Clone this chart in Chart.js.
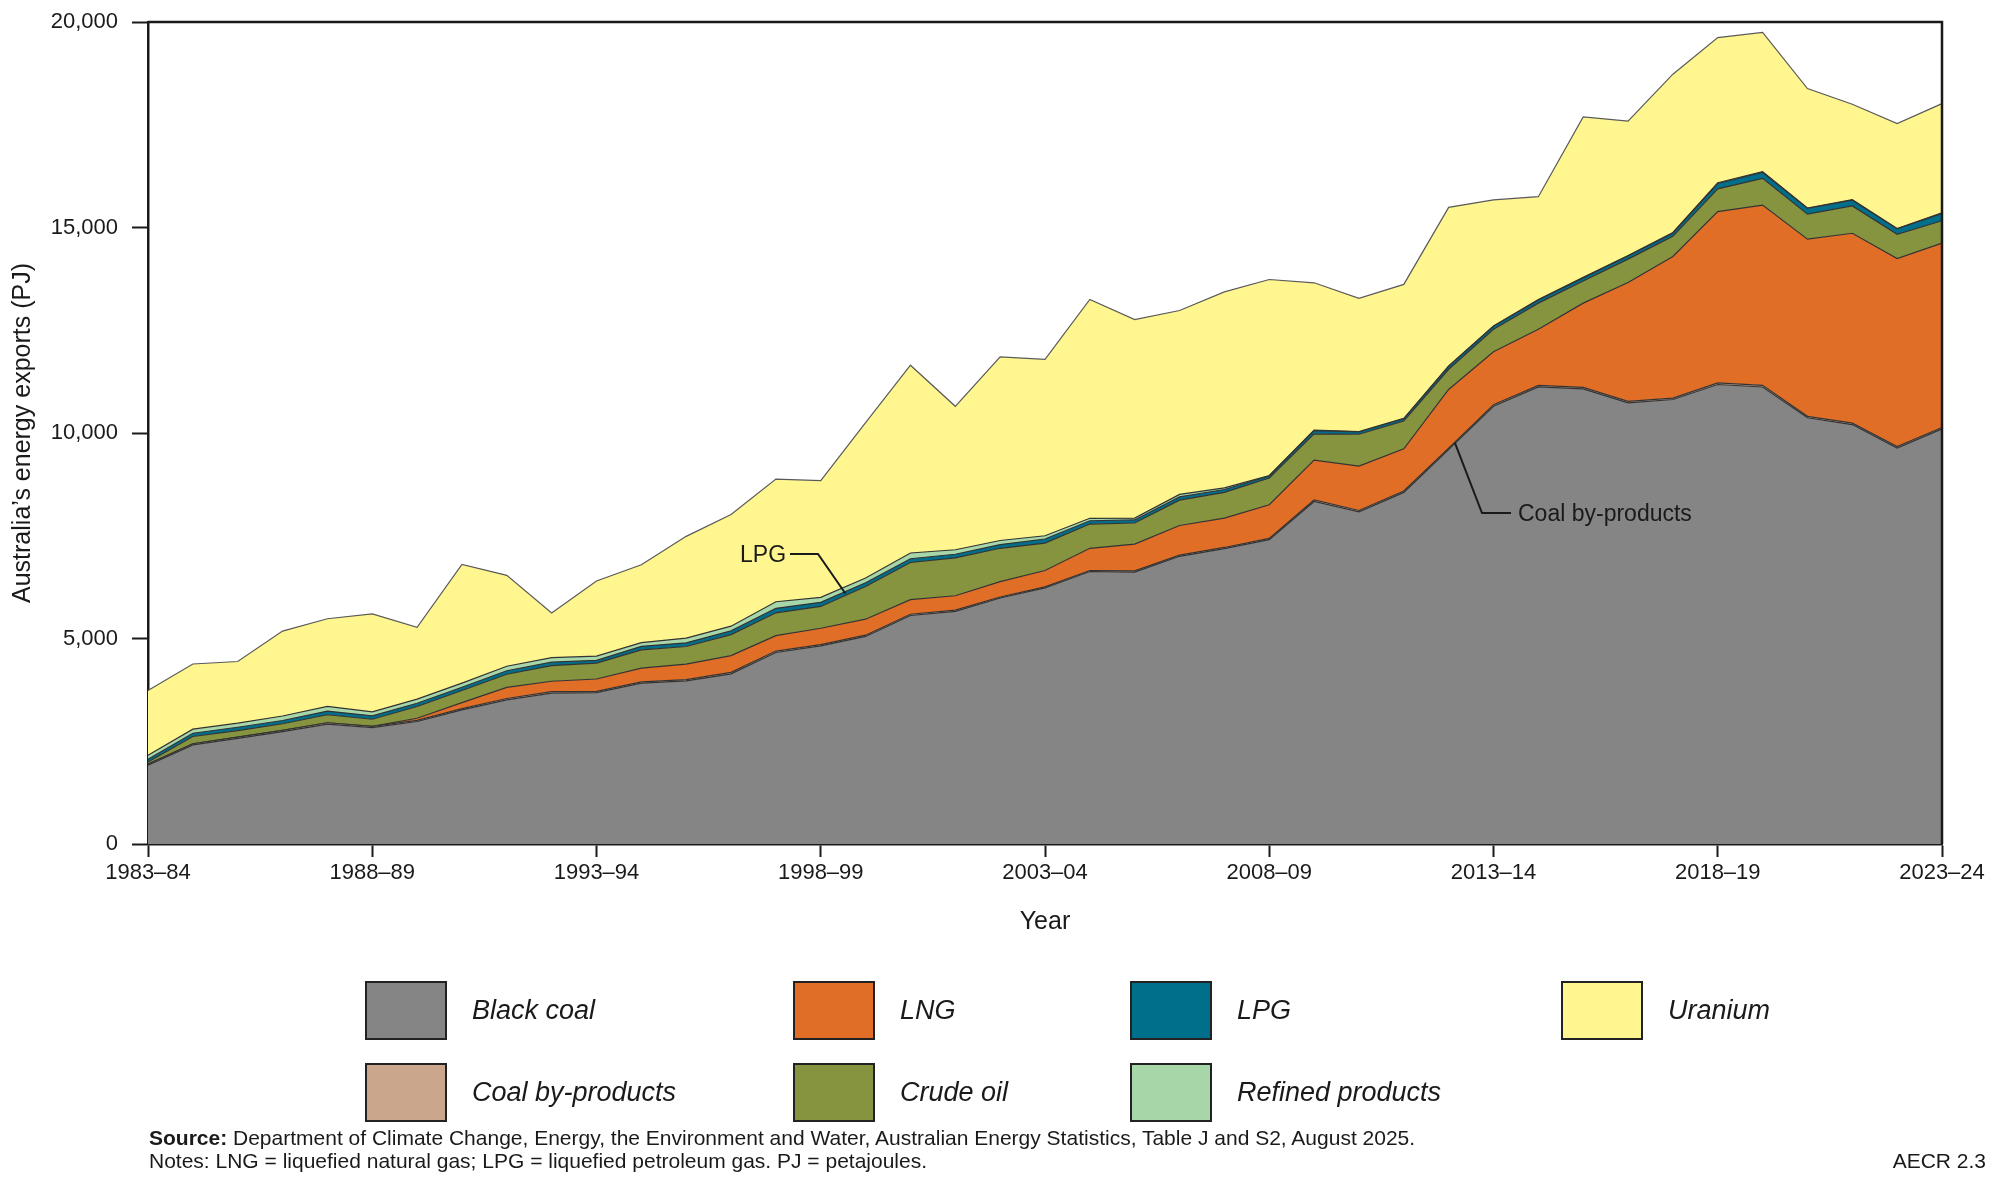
<!DOCTYPE html>
<html>
<head>
<meta charset="utf-8">
<script src="https://cdn.jsdelivr.net/npm/chart.js@4.4.1/dist/chart.umd.min.js"></script>
<style>
  html, body { margin: 0; padding: 0; background: #fff; }
  #wrap { position: relative; width: 2000px; height: 1187px; color: #1a1a1a;
          font-family: "Liberation Sans", Arial, sans-serif; }
  #chart { position: absolute; left: 0; top: 0; }
  .swatch { position: absolute; width: 78px; height: 55px; border: 2px solid #222; }
  .label { position: absolute; height: 59px; display: flex; align-items: center;
           font-style: italic; font-size: 27px; white-space: nowrap; }
  .note { position: absolute; font-size: 21px; line-height: 24px; white-space: nowrap; }
  .callout { position: absolute; font-size: 23px; line-height: 30px; white-space: nowrap; }
</style>
</head>
<body>
<div id="wrap">
  <canvas id="chart" width="2000" height="1187"></canvas>
  <div id="legend"></div>
  <div class="callout" style="left:740px; top:539px;">LPG</div>
  <div class="callout" style="left:1518px; top:498px;">Coal by-products</div>
  <div class="note" style="left:149px; top:1126px;"><b>Source:</b> Department of Climate Change, Energy, the Environment and Water, Australian Energy Statistics, Table J and S2, August 2025.</div>
  <div class="note" style="left:149px; top:1149px;">Notes: LNG = liquefied natural gas; LPG = liquefied petroleum gas. PJ = petajoules.</div>
  <div class="note" style="right:14px; top:1149px;">AECR 2.3</div>
</div>
<script>
const years = ['1983–84', '1984–85', '1985–86', '1986–87', '1987–88', '1988–89', '1989–90', '1990–91',
  '1991–92', '1992–93', '1993–94', '1994–95', '1995–96', '1996–97', '1997–98', '1998–99', '1999–00',
  '2000–01', '2001–02', '2002–03', '2003–04', '2004–05', '2005–06', '2006–07', '2007–08', '2008–09',
  '2009–10', '2010–11', '2011–12', '2012–13', '2013–14', '2014–15', '2015–16', '2016–17', '2017–18',
  '2018–19', '2019–20', '2020–21', '2021–22', '2022–23', '2023–24'];

// PJ
const blackCoal = [1920, 2410, 2570, 2735, 2915, 2830, 2980, 3265, 3505, 3670, 3685, 3915, 3970, 4140,
  4660, 4820, 5050, 5560, 5660, 5985, 6230, 6630, 6615, 7000, 7185, 7405, 8335, 8080, 8555, 9595,
  10650, 11120, 11075, 10735, 10815, 11180, 11120, 10370, 10205, 9635, 10100];
const coalByProducts = [25, 30, 30, 30, 35, 30, 30, 30, 35, 35, 30, 30, 30, 35, 35, 30, 30, 30, 30, 25,
  25, 25, 30, 30, 30, 30, 35, 35, 35, 35, 40, 40, 35, 35, 35, 40, 40, 35, 35, 35, 35];
const lng = [0, 0, 0, 0, 0, 0, 50, 145, 270, 255, 300, 335, 375, 410, 375, 400, 390, 355, 350, 375,
  400, 540, 650, 720, 715, 820, 970, 1080, 1025, 1430, 1285, 1365, 2050, 2890, 3445, 4165, 4385,
  4310, 4620, 4575, 4485];
const crudeOil = [50, 175, 160, 160, 195, 175, 285, 295, 320, 380, 385, 445, 430, 510, 555, 530, 795,
  905, 920, 810, 665, 590, 515, 615, 625, 650, 640, 775, 675, 490, 550, 635, 540, 570, 490, 555, 650,
  610, 665, 590, 545];
const lpg = [65, 80, 80, 80, 90, 85, 80, 80, 85, 85, 70, 85, 90, 90, 110, 100, 90, 90, 90, 90, 100, 80,
  75, 80, 70, 50, 80, 55, 55, 70, 70, 75, 75, 75, 75, 130, 145, 140, 140, 130, 180];
const refined = [100, 100, 100, 110, 115, 95, 100, 100, 110, 110, 100, 90, 115, 115, 160, 120, 115, 140,
  110, 100, 80, 60, 45, 60, 40, 10, 10, 10, 10, 10, 10, 10, 15, 15, 20, 20, 20, 10, 10, 10, 10];
const uranium = [1575, 1585, 1500, 2065, 2130, 2385, 1745, 2885, 2210, 1085, 1830, 1895, 2475, 2715,
  2985, 2840, 3780, 4570, 3490, 4465, 4290, 5325, 4830, 4475, 4770, 4770, 3585, 3240, 3260, 3860,
  3065, 2505, 3900, 3270, 3850, 3530, 3385, 2905, 2325, 2555, 2660];

const yTicks = [0, 5000, 10000, 15000, 20000];

// bottom to top stacking order
const series = [
  { name: 'Black coal', data: blackCoal, color: '#858585' },
  { name: 'Coal by-products', data: coalByProducts, color: '#c9a68c' },
  { name: 'LNG', data: lng, color: '#e06e27' },
  { name: 'Crude oil', data: crudeOil, color: '#86943f' },
  { name: 'LPG', data: lpg, color: '#006f8b' },
  { name: 'Refined products', data: refined, color: '#a7d7a8' },
  { name: 'Uranium', data: uranium, color: '#fff68f' }
];

const legendOrder = ['Black coal', 'LNG', 'LPG', 'Uranium', 'Coal by-products', 'Crude oil', 'Refined products'];
const legendSlots = [[365, 981], [793, 981], [1130, 981], [1561, 981], [365, 1063], [793, 1063], [1130, 1063]];

const FONT = "'Liberation Sans', Arial, sans-serif";
const INK = '#1a1a1a';

// leader lines: text end -> elbow -> middle of a band at a fractional year index
const callouts = [
  { layer: 4, at: 15.55, from: [790, 554], elbow: [818, 554] },
  { layer: 1, at: 29.14, from: [1511, 513], elbow: [1482, 513] }
];

function stackAt(layer, at) {
  var i = Math.floor(at), f = at - i, sum = 0;
  for (var k = 0; k <= layer; k++) {
    var d = series[k].data;
    sum += d[i] + (d[Math.min(i + 1, d.length - 1)] - d[i]) * f;
  }
  return sum;
}

var legend = document.getElementById('legend');
legendOrder.forEach(function (name, n) {
  var s = series.find(function (d) { return d.name === name; });
  var pos = legendSlots[n];
  var sw = document.createElement('div');
  sw.className = 'swatch';
  sw.style.left = pos[0] + 'px';
  sw.style.top = pos[1] + 'px';
  sw.style.background = s.color;
  legend.appendChild(sw);
  var lb = document.createElement('div');
  lb.className = 'label';
  lb.style.left = (pos[0] + 107) + 'px';
  lb.style.top = pos[1] + 'px';
  lb.textContent = name;
  legend.appendChild(lb);
});

const framePlugin = {
  id: 'frame',
  afterDraw(chart) {
    const ctx = chart.ctx, a = chart.chartArea, x = chart.scales.x, y = chart.scales.y;
    ctx.save();
    ctx.strokeStyle = INK;
    ctx.lineWidth = 2.5;
    ctx.beginPath();
    ctx.moveTo(a.left, a.top);
    ctx.lineTo(a.right, a.top);
    ctx.lineTo(a.right, a.bottom);
    ctx.stroke();
    ctx.lineWidth = 2;
    callouts.forEach(function (c) {
      var mid = (stackAt(c.layer, c.at) + stackAt(c.layer - 1, c.at)) / 2;
      ctx.beginPath();
      ctx.moveTo(c.from[0], c.from[1]);
      ctx.lineTo(c.elbow[0], c.elbow[1]);
      ctx.lineTo(x.getPixelForValue(c.at), y.getPixelForValue(mid));
      ctx.stroke();
    });
    ctx.restore();
  }
};

new Chart(document.getElementById('chart'), {
  type: 'line',
  data: {
    labels: years,
    datasets: series.map(function (s, i) {
      return {
        label: s.name,
        data: s.data,
        backgroundColor: s.color,
        borderColor: i === series.length - 1 ? '#5a5a5a' : '#333',
        borderWidth: 1.2,
        fill: i === 0 ? 'origin' : '-1',
        pointRadius: 0,
        tension: 0
      };
    })
  },
  options: {
    responsive: false,
    animation: false,
    devicePixelRatio: 1,
    layout: { padding: { left: 8, top: 22, right: 58, bottom: 250 } },
    plugins: { legend: { display: false }, tooltip: { enabled: false } },
    scales: {
      x: {
        grid: {
          drawOnChartArea: false, tickLength: 13, tickWidth: 2,
          tickColor: function (c) { return c.index % 5 === 0 ? INK : 'rgba(0,0,0,0)'; }
        },
        border: { color: INK, width: 2.5 },
        ticks: {
          autoSkip: false, maxRotation: 0, padding: 3, color: INK,
          font: { family: FONT, size: 22 },
          callback: function (v, i) { return i % 5 === 0 ? years[i] : ''; }
        },
        title: { display: true, text: 'Year', color: INK, padding: 0, font: { family: FONT, size: 25 } },
        afterFit: function (s) { s.height = 93; s.paddingLeft = 0; s.paddingRight = 0; }
      },
      y: {
        stacked: true,
        min: yTicks[0],
        max: yTicks[yTicks.length - 1],
        grid: { drawOnChartArea: false, tickLength: 16, tickWidth: 2, tickColor: INK },
        border: { color: INK, width: 2.5 },
        ticks: {
          stepSize: yTicks[1] - yTicks[0], padding: 14, color: INK,
          font: { family: FONT, size: 22 },
          callback: function (v) { return v.toLocaleString('en-US'); }
        },
        title: { display: true, text: 'Australia’s energy exports (PJ)', color: INK, padding: 0,
                 font: { family: FONT, size: 25 } },
        afterFit: function (s) { s.width = 140; s.paddingTop = 0; s.paddingBottom = 0; }
      }
    }
  },
  plugins: [framePlugin]
});
</script>
</body>
</html>
